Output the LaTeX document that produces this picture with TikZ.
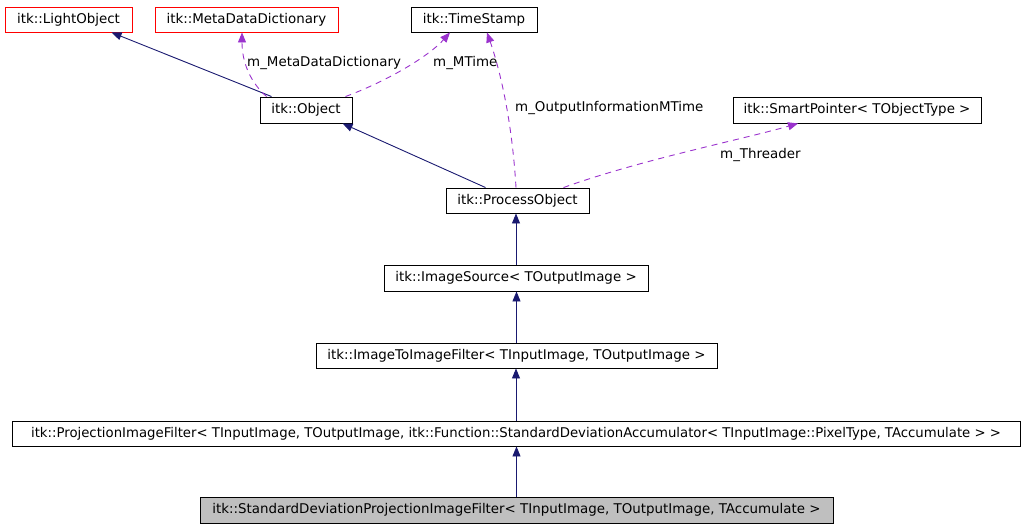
\documentclass[tikz,border=0pt]{standalone}
\usepackage{fontspec}
\setmainfont{DejaVu Sans}
\usetikzlibrary{arrows.meta}
\definecolor{inhblue}{HTML}{191970}
\definecolor{usepurple}{HTML}{9A32CD}
\begin{document}
\begin{tikzpicture}[x=1pt,y=-1pt,
  cls/.style={draw=black,fill=white,inner sep=0pt,line width=0.9pt,
    font=\fontsize{13.4}{16}\selectfont},
  redcls/.style={cls,draw=red},
  curcls/.style={cls,fill=black!25},
  inh/.style={draw=inhblue,line width=0.9pt,-{Triangle[length=10pt,width=8pt]}},
  use/.style={draw=usepurple,line width=0.9pt,dash pattern=on 6pt off 5pt,
    -{Triangle[length=10pt,width=8pt]}},
  lbl/.style={inner sep=0pt,anchor=west,font=\fontsize{13.4}{16}\selectfont}]
\useasboundingbox (0,0) rectangle (1024,528);
\node[redcls,minimum width=127pt,minimum height=25pt] (lightobject) at (68.5,19.5) {itk::LightObject};
\node[redcls,minimum width=183pt,minimum height=25pt] (metadict) at (246.5,19.5) {itk::MetaDataDictionary};
\node[cls,minimum width=126pt,minimum height=25pt] (timestamp) at (474,19.5) {itk::TimeStamp};
\node[cls,minimum width=92pt,minimum height=26pt] (object) at (306,110) {itk::Object};
\node[cls,minimum width=248pt,minimum height=26pt] (smartptr) at (857,110) {itk::SmartPointer< TObjectType >};
\node[cls,minimum width=143pt,minimum height=25pt] (processobj) at (517.5,200.5) {itk::ProcessObject};
\node[cls,minimum width=264pt,minimum height=26pt] (imagesource) at (516,278) {itk::ImageSource< TOutputImage >};
\node[cls,minimum width=401pt,minimum height=25pt] (imtoim) at (516.5,355.5) {itk::ImageToImageFilter< TInputImage, TOutputImage >};
\node[cls,minimum width=1008pt,minimum height=25pt] (projfilter) at (516,433.5) {\scalebox{0.99}[1]{itk::ProjectionImageFilter< TInputImage, TOutputImage, itk::Function::StandardDeviationAccumulator< TInputImage::PixelType, TAccumulate > >}};
\node[curcls,minimum width=633pt,minimum height=26pt] (stddevfilter) at (516.5,510) {itk::StandardDeviationProjectionImageFilter< TInputImage, TOutputImage, TAccumulate >};
% inheritance
\draw[inh] ([xshift=12pt]object.north west) -- ([xshift=107pt]lightobject.south west);
\draw[inh] ([xshift=40pt]processobj.north west) -- ([xshift=83pt]object.south west);
\draw[inh] (imagesource.north) -- (imagesource.north |- processobj.south);
\draw[inh] (imtoim.north) -- (imtoim.north |- imagesource.south);
\draw[inh] (projfilter.north) -- (projfilter.north |- imtoim.south);
\draw[inh] (stddevfilter.north) -- (stddevfilter.north |- projfilter.south);
% members
\draw[use] ([xshift=7pt]object.north west) .. controls (250,82) and (242,62) .. ([xshift=-4.5pt]metadict.south);
\draw[use] ([xshift=-7pt]object.north east) .. controls (390,80) and (430,55) .. ([xshift=-24pt]timestamp.south);
\draw[use] ([xshift=-1.5pt]processobj.north) .. controls (512,120) and (500,70) .. ([xshift=13pt]timestamp.south);
\draw[use] ([xshift=46pt]processobj.north) .. controls (640,160) and (740,140) .. ([xshift=-59pt]smartptr.south);
\node[lbl] (lmeta) at (247,63) {m\_MetaDataDictionary};
\node[lbl] (lmtime) at (433,63) {m\_MTime};
\node[lbl] (loutinfo) at (515,108) {m\_OutputInformationMTime};
\node[lbl] (lthreader) at (720,155) {m\_Threader};
\end{tikzpicture}
\end{document}
